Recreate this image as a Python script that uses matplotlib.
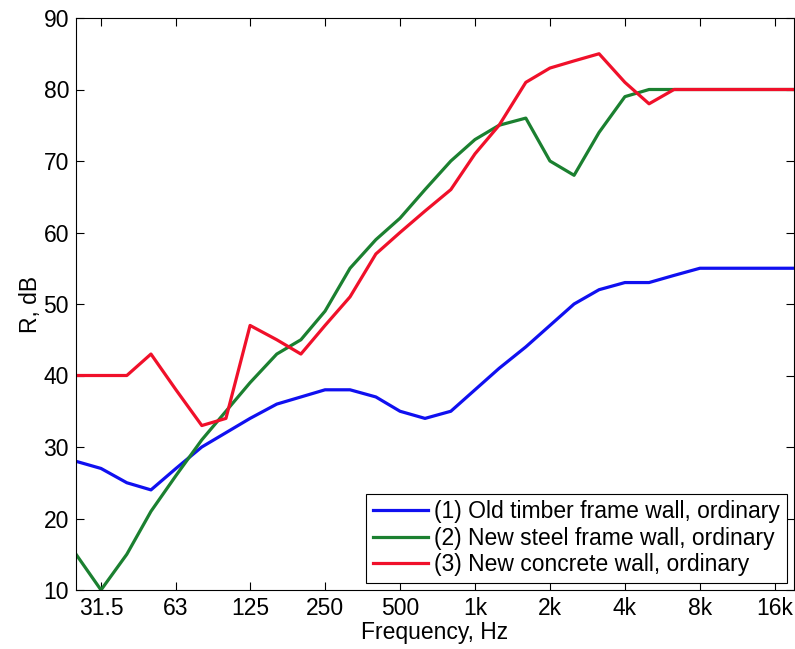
import numpy as np
import matplotlib
matplotlib.use('Agg')
import matplotlib.pyplot as plt

# third-octave band centre frequencies, Hz
freq = [25, 31.5, 40, 50, 63, 80, 100, 125, 160, 200, 250, 315, 400, 500, 630,
        800, 1000, 1250, 1600, 2000, 2500, 3150, 4000, 5000, 6300, 8000, 10000,
        12500, 16000, 20000]

old_timber = [28, 27, 25, 24, 27, 30, 32, 34, 36, 37, 38, 38, 37, 35, 34,
              35, 38, 41, 44, 47, 50, 52, 53, 53, 54, 55, 55, 55, 55, 55]
new_steel = [15, 10, 15, 21, 26, 31, 35, 39, 43, 45, 49, 55, 59, 62, 66,
             70, 73, 75, 76, 70, 68, 74, 79, 80, 80, 80, 80, 80, 80, 80]
new_concrete = [40, 40, 40, 43, 38, 33, 34, 47, 45, 43, 47, 51, 57, 60, 63,
                66, 71, 75, 81, 83, 84, 85, 81, 78, 80, 80, 80, 80, 80, 80]

labels = ['(1) Old timber frame wall, ordinary',
          '(2) New steel frame wall, ordinary',
          '(3) New concrete wall, ordinary']

tick_freq = [31.5, 63, 125, 250, 500, 1000, 2000, 4000, 8000, 16000]
tick_text = ['31.5', '63', '125', '250', '500', '1k', '2k', '4k', '8k', '16k']

plt.rcParams['font.family'] = ['Liberation Sans', 'DejaVu Sans']
plt.rcParams['font.size'] = 16.5

fig = plt.figure(figsize=(7.95, 6.49), dpi=100)
ax = fig.add_axes([76 / 795, 1 - 590 / 649, (794 - 76) / 795, (590 - 18) / 649])

ax.plot(freq, old_timber, color='#1010f0', lw=2.3, label=labels[0])
ax.plot(freq, new_steel, color='#1b8030', lw=2.3, label=labels[1])
ax.plot(freq, new_concrete, color='#f0102a', lw=2.3, label=labels[2])

ax.set_xscale('log')
ax.set_xlim(25, 19100)
ax.set_ylim(10, 90)
ax.set_xticks(tick_freq)
ax.set_xticklabels(tick_text)
ax.minorticks_off()
ax.set_yticks(np.arange(10, 91, 10))
ax.tick_params(direction='in', top=True, right=True, length=6, width=0.8, pad=5)
for s in ax.spines.values():
    s.set_linewidth(0.8)

ax.set_xlabel('Frequency, Hz', labelpad=1)
ax.set_ylabel('R, dB', labelpad=1)

leg = ax.legend(loc='lower right', fancybox=False, edgecolor='black',
                framealpha=1, handlelength=2.4, handletextpad=0.3,
                borderpad=0.3, labelspacing=0.15, borderaxespad=0.3,
                fontsize=16.5)
leg.get_frame().set_linewidth(0.8)

fig.savefig('out.png', dpi=100)
